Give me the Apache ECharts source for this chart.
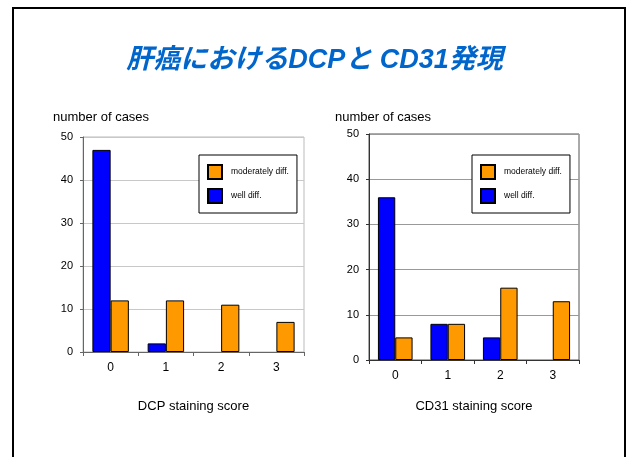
<!DOCTYPE html>
<html>
<head>
<meta charset="utf-8">
<script src="https://cdn.jsdelivr.net/npm/echarts@6/dist/echarts.min.js"></script>
<style>
  html, body { margin: 0; padding: 0; background: #fff; }
  #chart { width: 629px; height: 457px; }
</style>
</head>
<body>
<div id="chart"></div>
<script>
// データ
const titleText = '肝癌におけるDCPと CD31発現'
const scores = ['0', '1', '2', '3']
const seriesNames = ['moderately diff.', 'well diff.']
const dcpWell = [47, 2, 0, 0]
const dcpModerate = [12, 12, 11, 7]
const cd31Well = [36, 8, 5, 0]
const cd31Moderate = [5, 8, 16, 13]
const yTicks = [0, 10, 20, 30, 40, 50]

const font = 'Liberation Sans, Arial, sans-serif'
const blue = '#0000FF'
const orange = '#FF9900'

const chart = echarts.init(document.getElementById('chart'))

const makeX = (gridIndex, name, lineColor, gap) => ({
  type: 'category',
  gridIndex,
  data: scores,
  name,
  nameLocation: 'middle',
  nameGap: gap,
  nameTextStyle: { fontFamily: font, fontSize: 13, color: '#000' },
  axisLine: { lineStyle: { color: lineColor, width: 1 } },
  axisTick: { show: true, inside: false, length: 4, lineStyle: { color: lineColor } },
  axisLabel: { fontFamily: font, fontSize: 12, color: '#000', margin: 10 }
})

const makeY = (gridIndex, gridColor, lineColor) => ({
  type: 'value',
  gridIndex,
  min: yTicks[0],
  max: yTicks[yTicks.length - 1],
  interval: 10,
  axisLine: { show: true, lineStyle: { color: lineColor } },
  axisTick: { show: true, length: 3, lineStyle: { color: lineColor } },
  axisLabel: { fontFamily: font, fontSize: 11, color: '#000', margin: 10 },
  splitLine: { show: true, lineStyle: { color: gridColor, width: 1 } }
})

// 0件の棒は描かない
const makeBar = (name, data, color, idx) => ({
  name,
  type: 'bar',
  xAxisIndex: idx,
  yAxisIndex: idx,
  data: data.map(v => (v === 0 ? null : v)),
  barGap: '0%',
  barCategoryGap: '34%',
  itemStyle: { color, borderColor: '#000', borderWidth: 1 }
})

const makeLegend = (left) => ({
  orient: 'vertical',
  left,
  top: 155,
  data: seriesNames,
  itemWidth: 14,
  itemHeight: 14,
  itemGap: 8,
  padding: [9, 8, 9, 8],
  borderColor: '#000',
  borderWidth: 1,
  backgroundColor: '#fff',
  selectedMode: false,
  textStyle: { fontFamily: font, fontSize: 8.5, color: '#000', padding: [0, 0, 0, 4], width: 60 },
  icon: 'rect'
})

chart.setOption({
  animation: false,
  backgroundColor: '#fff',
  title: {
    text: titleText,
    left: 'center',
    top: 42,
    textStyle: {
      fontFamily: 'Liberation Sans, Noto Sans CJK JP, sans-serif',
      fontStyle: 'italic',
      fontWeight: 'bold',
      fontSize: 27,
      color: '#0066CC'
    }
  },
  graphic: [
    {
      type: 'rect',
      shape: { x: 13, y: 8, width: 612, height: 470 },
      style: { fill: 'none', stroke: '#000', lineWidth: 2 },
      silent: true
    },
    {
      type: 'text', left: 53, top: 111,
      style: { text: 'number of cases', font: '13px ' + font, fill: '#000' }
    },
    {
      type: 'text', left: 335, top: 111,
      style: { text: 'number of cases', font: '13px ' + font, fill: '#000' }
    }
  ],
  legend: [makeLegend(199), makeLegend(472)],
  grid: [
    { left: 83, right: 325, top: 137, bottom: 105, show: true, borderColor: '#bbb', borderWidth: 1, backgroundColor: 'transparent' },
    { left: 369, right: 50, top: 134, bottom: 97, show: true, borderColor: '#555', borderWidth: 1, backgroundColor: 'transparent' }
  ],
  xAxis: [makeX(0, 'DCP staining score', '#666', 48), makeX(1, 'CD31 staining score', '#333', 40)],
  yAxis: [makeY(0, '#c8c8c8', '#666'), makeY(1, '#999', '#333')],
  series: [
    makeBar(seriesNames[1], dcpWell, blue, 0),
    makeBar(seriesNames[0], dcpModerate, orange, 0),
    makeBar(seriesNames[1], cd31Well, blue, 1),
    makeBar(seriesNames[0], cd31Moderate, orange, 1)
  ]
})
</script>
</body>
</html>
